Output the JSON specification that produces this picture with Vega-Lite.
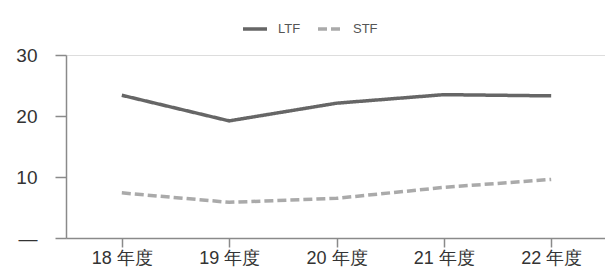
{
  "$schema": "https://vega.github.io/schema/vega-lite/v6.json",
  "autosize": "none",
  "width": 541,
  "height": 183,
  "padding": {"left": 66, "top": 55, "right": 0, "bottom": 34},
  "background": "white",
  "data": {
    "values": [
      {"year": "18 年度", "series": "LTF", "value": 23.4},
      {"year": "19 年度", "series": "LTF", "value": 19.2},
      {"year": "20 年度", "series": "LTF", "value": 22.1},
      {"year": "21 年度", "series": "LTF", "value": 23.5},
      {"year": "22 年度", "series": "LTF", "value": 23.3},
      {"year": "18 年度", "series": "STF", "value": 7.4},
      {"year": "19 年度", "series": "STF", "value": 5.85},
      {"year": "20 年度", "series": "STF", "value": 6.5},
      {"year": "21 年度", "series": "STF", "value": 8.3},
      {"year": "22 年度", "series": "STF", "value": 9.6}
    ]
  },
  "mark": {"type": "line", "strokeWidth": 3.5},
  "encoding": {
    "x": {
      "field": "year", "type": "ordinal",
      "scale": {"type": "point", "padding": 0.52},
      "axis": {
        "title": null, "labelAngle": 0, "domainColor": "#8a8a8a", "domainWidth": 1.5,
        "tickColor": "#8a8a8a", "tickWidth": 1.5, "tickSize": 9, "labelPadding": 2,
        "labelFont": "Liberation Sans", "labelFontSize": 18, "labelColor": "#333"
      }
    },
    "y": {
      "field": "value", "type": "quantitative",
      "scale": {"domain": [0, 30], "nice": false},
      "axis": {
        "title": null, "values": [0, 10, 20, 30], "grid": false,
        "labelExpr": "datum.value == 0 ? '—' : datum.label",
        "domainColor": "#8a8a8a", "domainWidth": 1.5,
        "tickColor": "#8a8a8a", "tickWidth": 1.5, "tickSize": 11, "labelPadding": 18,
        "labelFont": "Liberation Sans", "labelFontSize": 19, "labelColor": "#333"
      }
    },
    "color": {
      "field": "series", "type": "nominal",
      "scale": {"domain": ["LTF", "STF"], "range": ["#666666", "#aaaaaa"]},
      "legend": {
        "title": null, "orient": "none", "direction": "horizontal",
        "legendX": 175, "legendY": -40,
        "symbolType": "stroke", "symbolStrokeWidth": 3.5, "symbolSize": 576,
        "labelFont": "Liberation Sans", "labelFontSize": 13, "labelColor": "#555",
        "columnPadding": 10, "labelOffset": 9
      }
    },
    "strokeDash": {
      "field": "series", "type": "nominal",
      "scale": {"domain": ["LTF", "STF"], "range": [[1, 0], [9, 4]]},
      "legend": null
    }
  }
}
